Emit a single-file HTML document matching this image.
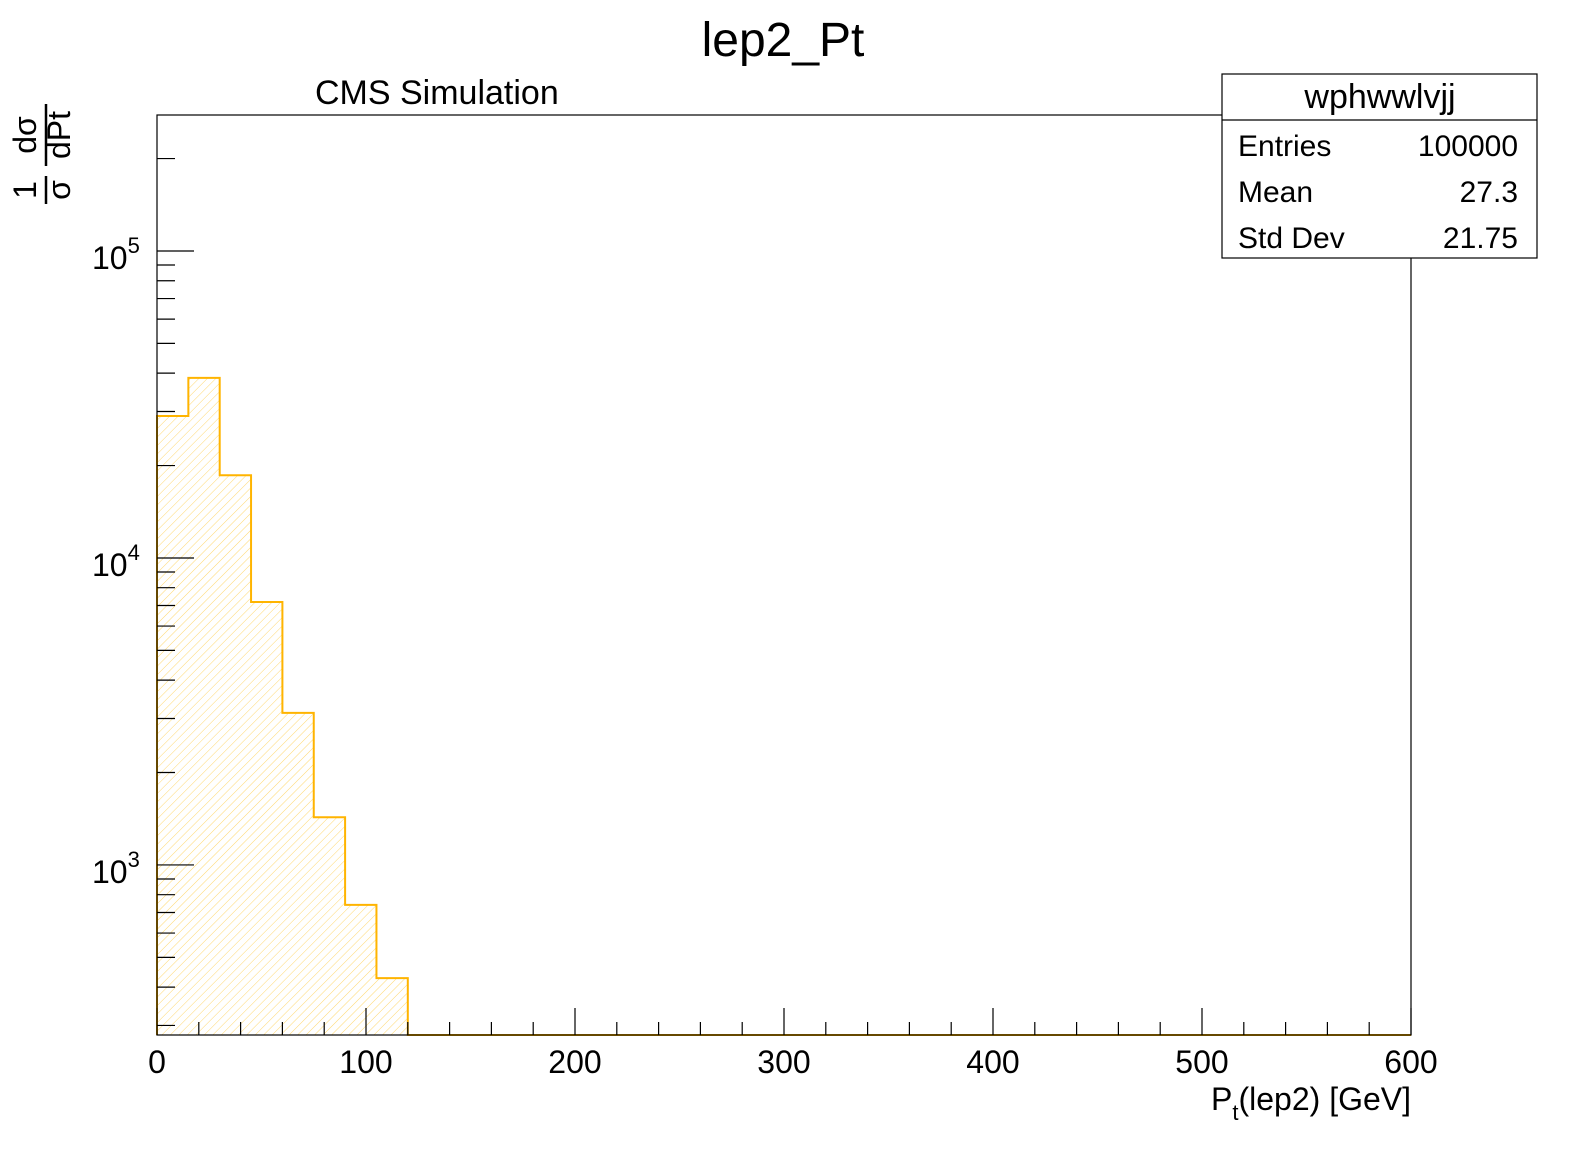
<!DOCTYPE html>
<html><head><meta charset="utf-8"><style>
html,body{margin:0;padding:0;background:#fff;}
svg{display:block;font-family:"Liberation Sans",sans-serif;}
</style></head><body>
<svg id="chart" width="1596" height="1172" viewBox="0 0 1596 1172">
<defs><pattern id="hatch" patternUnits="userSpaceOnUse" width="6" height="6" patternTransform="rotate(45)">
<line x1="0" y1="0" x2="0" y2="6" stroke="#ffd870" stroke-width="1"/></pattern></defs>
<text x="783" y="56" font-size="48" text-anchor="middle">lep2_Pt</text>
<text x="315" y="104" font-size="34">CMS Simulation</text>
<g id="plot"></g>
<rect x="157" y="115" width="1254" height="920" fill="none" stroke="#000" stroke-width="1.2"/>
<g transform="translate(46,190) rotate(-90)" font-size="32">
<text x="0" y="-10" text-anchor="middle">1</text><text x="0" y="24" text-anchor="middle">σ</text>
<line x1="-14" y1="0" x2="14" y2="0" stroke="#000" stroke-width="2.5"/>
<text x="55" y="-10" text-anchor="middle">dσ</text><text x="55" y="24" text-anchor="middle">dPt</text>
<line x1="24" y1="0" x2="86" y2="0" stroke="#000" stroke-width="2.5"/>
</g>
<text x="1411" y="1110" font-size="32" text-anchor="end">P<tspan font-size="22" dy="10">t</tspan><tspan dy="-10">(lep2) [GeV]</tspan></text>
<g font-size="30">
<rect x="1222" y="74" width="315" height="184" fill="#fff" stroke="#000" stroke-width="1.2"/>
<line x1="1222" y1="120" x2="1537" y2="120" stroke="#000" stroke-width="1.2"/>
<text x="1380" y="108" text-anchor="middle" font-size="34">wphwwlvjj</text>
<text x="1238" y="156">Entries</text><text x="1518" y="156" text-anchor="end">100000</text>
<text x="1238" y="202">Mean</text><text x="1518" y="202" text-anchor="end">27.3</text>
<text x="1238" y="248">Std Dev</text><text x="1518" y="248" text-anchor="end">21.75</text>
</g>
</svg>
<script>
const binEdges=[0,15,30,45,60,75,90,105,120];
const binValues=[29000,38600,18600,7190,3130,1430,741,428];
const xTicks=[0,100,200,300,400,500,600];
const yDecades=[3,4,5];
const X0=157,X1=1411,Y0=1035,Y1=115,xMax=600;
const yMinLog=2.446,yMaxLog=5.443;
const sx=v=>X0+(v/xMax)*(X1-X0);
const sy=v=>Y0-(Math.log10(v)-yMinLog)/(yMaxLog-yMinLog)*(Y0-Y1);
const NS="http://www.w3.org/2000/svg";
const g=document.getElementById('plot');
function mk(t,a){const e=document.createElementNS(NS,t);for(const k in a)e.setAttribute(k,a[k]);g.appendChild(e);return e;}
let d=`M${sx(0)},${Y0}`;
binValues.forEach((v,i)=>{const y=Math.min(Y0,sy(v));d+=` L${sx(binEdges[i])},${y} L${sx(binEdges[i+1])},${y}`;});
d+=` L${sx(binEdges[binEdges.length-1])},${Y0}`;
const fill=mk('path',{d:d+' Z',fill:'url(#hatch)',stroke:'none'});


const line=mk('path',{d:d+` L${X1},${Y0}`,fill:'none',stroke:'#ffb400','stroke-width':2});


for(let v=0;v<=xMax;v+=20){const major=v%100===0;const x=sx(v);
const t=mk('line',{x1:x,x2:x,y1:Y0,y2:Y0-(major?27:13),stroke:'#000','stroke-width':1.2});

}
xTicks.forEach(v=>{const t=mk('text',{x:sx(v),y:1073,'font-size':32,'text-anchor':'middle'});t.textContent=v;

});
for(let dec=2;dec<=5;dec++){for(let m=1;m<=9;m++){const v=m*Math.pow(10,dec);const lv=Math.log10(v);
if(lv<yMinLog||lv>yMaxLog)continue;const y=sy(v);
const t=mk('line',{x1:X0,x2:X0+(m===1?37:18),y1:y,y2:y,stroke:'#000','stroke-width':1.2});

}}
yDecades.forEach(p=>{const y=sy(Math.pow(10,p));const t=mk('text',{x:92,y:y+18,'font-size':32});
t.innerHTML=`10<tspan font-size="22" dy="-16">${p}</tspan>`;

});
</script>
</body></html>
